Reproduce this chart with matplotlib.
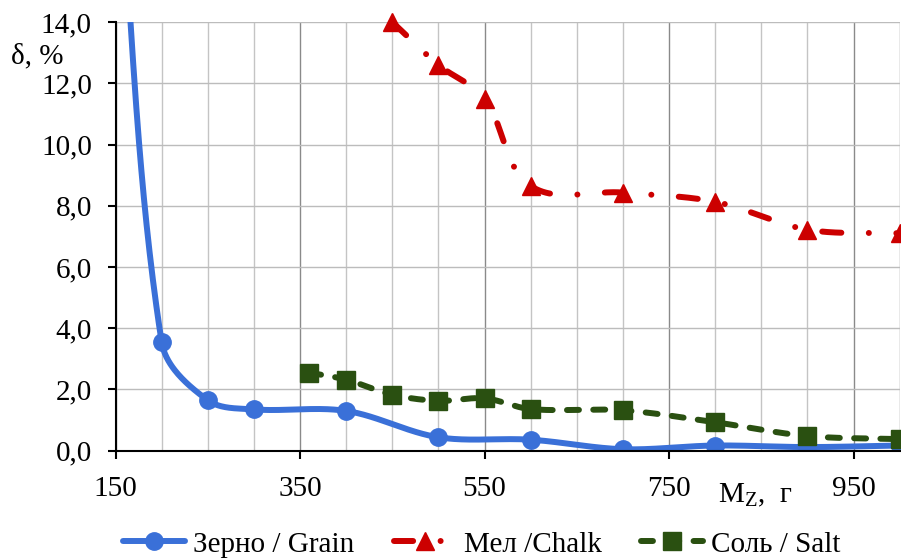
import numpy as np
import matplotlib
matplotlib.use("Agg")
import matplotlib.pyplot as plt
from matplotlib.lines import Line2D
from matplotlib.ticker import FuncFormatter, MultipleLocator, FixedLocator

plt.rcParams['font.family'] = ['Liberation Serif', 'DejaVu Serif']
plt.rcParams['mathtext.fontset'] = 'custom'
plt.rcParams['mathtext.rm'] = 'Liberation Serif'
plt.rcParams['mathtext.it'] = 'Liberation Serif'

# ---- data ----
grain_x = [150, 200, 250, 300, 400, 500, 600, 700, 800, 900, 1000]
grain_y = [21.0, 3.55, 1.65, 1.35, 1.30, 0.44, 0.36, 0.05, 0.17, 0.12, 0.17]

chalk_x = [450, 500, 550, 600, 700, 800, 900, 1000]
chalk_y = [14.0, 12.6, 11.5, 8.65, 8.43, 8.13, 7.22, 7.1]

salt_x = [360, 400, 450, 500, 550, 600, 700, 800, 900, 1000]
salt_y = [2.55, 2.32, 1.83, 1.63, 1.71, 1.36, 1.32, 0.93, 0.48, 0.38]

labels = ["Зерно / Grain", "Мел /Chalk", "Соль / Salt"]
colors = ["#3a70d8", "#cc0000", "#2a5011"]

xticks = [150, 350, 550, 750, 950]
yticks = [0, 2, 4, 6, 8, 10, 12, 14]

FIG_W, FIG_H = 9.01, 5.59
AX_RECT = [0.1282, 0.1937, 0.8703, 0.7669]
XLIM = (150, 1000)
YLIM = (0, 14)


def smooth(xs, ys, n=60):
    """Smoothed line through the points (Bezier, tangents in screen space)."""
    sx = AX_RECT[2] * FIG_W / (XLIM[1] - XLIM[0])
    sy = AX_RECT[3] * FIG_H / (YLIM[1] - YLIM[0])
    p = np.column_stack([np.asarray(xs, float) * sx, np.asarray(ys, float) * sy])
    m = len(p)
    d = []
    for i in range(m):
        a = p[i - 1] if i > 0 else p[i]
        b = p[i + 1] if i < m - 1 else p[i]
        v = b - a
        d.append(v / np.linalg.norm(v))
    out = [p[0]]
    for i in range(m - 1):
        L = np.linalg.norm(p[i + 1] - p[i])
        c1 = p[i] + d[i] * L / 3.0
        c2 = p[i + 1] - d[i + 1] * L / 3.0
        t = np.linspace(0, 1, n)[1:, None]
        seg = ((1 - t) ** 3) * p[i] + 3 * ((1 - t) ** 2) * t * c1 + 3 * (1 - t) * t ** 2 * c2 + t ** 3 * p[i + 1]
        out.extend(seg)
    out = np.array(out)
    return out[:, 0] / sx, out[:, 1] / sy


fig = plt.figure(figsize=(FIG_W, FIG_H), dpi=100)
ax = fig.add_axes(AX_RECT)
ax.set_xlim(*XLIM)
ax.set_ylim(*YLIM)

lw = 4.3
chalk_dash = (3.2, 4.6, 0.01, 4.6)
salt_dash = (2.0, 2.4)

# Grain
gx, gy = smooth(grain_x, grain_y)
ax.plot(gx, gy, color=colors[0], lw=lw, solid_capstyle='round', zorder=3)
ax.plot(grain_x, grain_y, 'o', color=colors[0], ms=12.5, zorder=4)

# Chalk
cx, cy = smooth(chalk_x, chalk_y)
ax.plot(cx, cy, color=colors[1], lw=lw, dashes=chalk_dash,
        dash_capstyle='round', clip_on=False, zorder=3)
ax.plot(chalk_x, chalk_y, '^', color=colors[1], ms=13.5, clip_on=False, zorder=4)

# Salt
tx, ty = smooth(salt_x, salt_y)
ax.plot(tx, ty, color=colors[2], lw=lw, dashes=salt_dash,
        dash_capstyle='round', zorder=3)
ax.plot(salt_x, salt_y, 's', color=colors[2], ms=13, zorder=4)

# ---- axes styling ----
for s in ['top', 'right']:
    ax.spines[s].set_visible(False)
for s in ['left', 'bottom']:
    ax.spines[s].set_linewidth(1.5)
    ax.spines[s].set_color('black')
    ax.spines[s].set_zorder(5)

ax.xaxis.set_major_locator(FixedLocator(xticks))
ax.xaxis.set_minor_locator(MultipleLocator(50))
ax.yaxis.set_major_locator(FixedLocator(yticks))

ax.yaxis.set_major_formatter(FuncFormatter(lambda v, p: f"{v:.1f}".replace('.', ',')))
ax.xaxis.set_major_formatter(FuncFormatter(lambda v, p: f"{int(v)}"))

ax.tick_params(axis='both', which='major', direction='out', length=6, width=1.5,
               labelsize=21, colors='black')
ax.tick_params(axis='y', pad=11)
ax.tick_params(axis='x', pad=12)
ax.tick_params(axis='x', which='minor', length=0)

ax.grid(True, which='minor', axis='x', color='#c4c4c4', lw=1.0, zorder=0)
ax.grid(True, which='major', axis='x', color='#8a8a8a', lw=1.0, zorder=0)
ax.grid(True, which='major', axis='y', color='#bcbcbc', lw=1.0, zorder=0)
ax.set_axisbelow(True)
ax.axvline(1000, color='#c4c4c4', lw=1.0, zorder=0)

fig.text(0.012, 0.900, "δ, %", fontsize=21, ha='left', va='center')
fig.text(0.797, 0.113, r"$\mathrm{M_Z}$,  г", fontsize=21, ha='left', va='center')

handles = [
    Line2D([], [], color=colors[0], lw=lw, marker='o', ms=12.5, solid_capstyle='round'),
    Line2D([], [], color=colors[1], lw=lw, marker='^', ms=13.5, dashes=chalk_dash,
           dash_capstyle='round'),
    Line2D([], [], color=colors[2], lw=lw, marker='s', ms=13, dashes=salt_dash,
           dash_capstyle='round'),
]
fig.legend(handles, labels, loc='center', bbox_to_anchor=(0.535, 0.026), ncol=3,
           frameon=False, fontsize=21, numpoints=1, handlelength=2.1,
           handletextpad=0.3, columnspacing=1.35, borderaxespad=0, borderpad=0)

fig.savefig("out.png", dpi=100)
